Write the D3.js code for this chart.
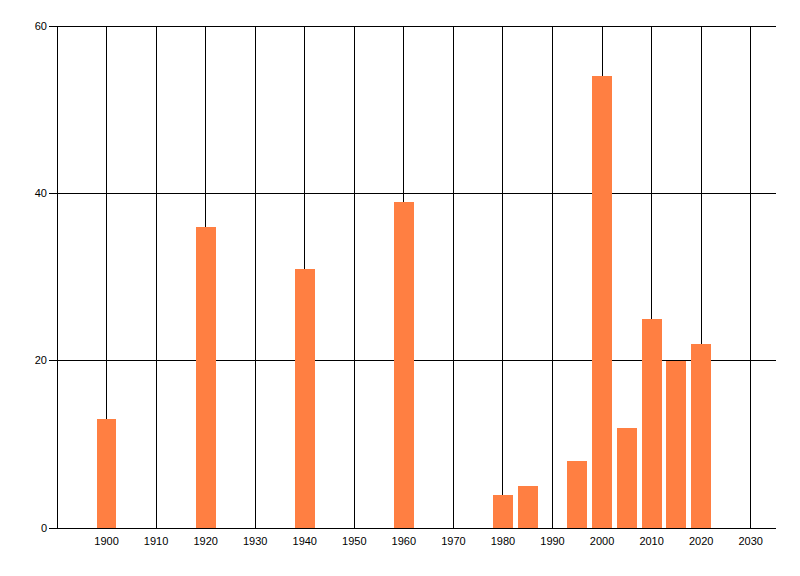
<!DOCTYPE html>
<html><head><meta charset="utf-8">
<script src="https://cdn.jsdelivr.net/npm/d3@7"></script>
<style>body{margin:0;background:#fff}svg{display:block}text{font-family:"Liberation Sans",Arial,sans-serif;font-size:11px;fill:#000}</style>
</head><body>
<svg id="c" width="800" height="576"></svg>
<script>
const years = [1900,1920,1940,1960,1980,1985,1995,2000,2005,2010,2015,2020];
const values = [13,36,31,39,4,5,8,54,12,25,20,22];
const xTicks = [1900,1910,1920,1930,1940,1950,1960,1970,1980,1990,2000,2010,2020,2030];
const yTicks = [0,20,40,60];
const barWidthYears = 4;

const svg = d3.select("#c");
const x = d3.scaleLinear().domain([1890,2035]).range([57,775.5]);
const y = d3.scaleLinear().domain([0,60]).range([528,26]);
const px = v => Math.floor(v)+0.5;

// vertical grid
svg.append("g").selectAll("line").data(xTicks).join("line")
  .attr("x1",d=>px(x(d))).attr("x2",d=>px(x(d)))
  .attr("y1",px(y(60))).attr("y2",px(y(0)))
  .attr("stroke","#000").attr("stroke-width",1);
// horizontal grid
svg.append("g").selectAll("line").data(yTicks).join("line")
  .attr("x1",49).attr("x2",776)
  .attr("y1",d=>px(y(d))).attr("y2",d=>px(y(d)))
  .attr("stroke","#000").attr("stroke-width",1);
// left axis
svg.append("line").attr("x1",px(x(1890))).attr("x2",px(x(1890)))
  .attr("y1",px(y(60))).attr("y2",px(y(0))).attr("stroke","#000");

// bars
svg.append("g").selectAll("rect").data(years).join("rect")
  .attr("x",(d)=>Math.round(x(d-barWidthYears/2)))
  .attr("width",(d)=>Math.round(x(d+barWidthYears/2))-Math.round(x(d-barWidthYears/2)))
  .attr("y",(d,i)=>Math.round(y(values[i])))
  .attr("height",(d,i)=>Math.round(y(0))-Math.round(y(values[i])))
  .attr("fill","#ff7f42");

// y labels
svg.append("g").selectAll("text").data(yTicks).join("text")
  .attr("x",47).attr("y",d=>px(y(d))).attr("dy","0.35em")
  .attr("text-anchor","end").text(d=>d);
// x labels
svg.append("g").selectAll("text").data(xTicks).join("text")
  .attr("x",d=>x(d)).attr("y",545)
  .attr("text-anchor","middle").text(d=>d);
</script>
</body></html>
